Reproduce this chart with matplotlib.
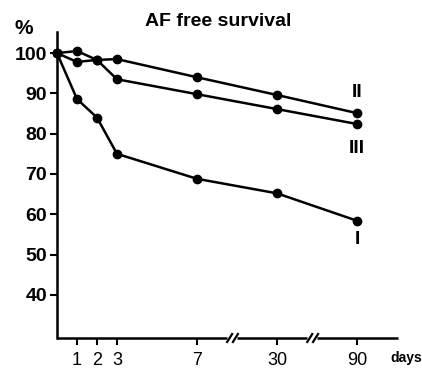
import numpy as np
import matplotlib.pyplot as plt

days = [0, 1, 2, 3, 7, 30, 90]
curve_II = [100, 97.8, 98.3, 98.5, 94.0, 89.6, 85.1]
curve_III = [100, 100.5, 98.3, 93.5, 89.8, 86.1, 82.4]
curve_I = [100, 88.6, 84.0, 75.0, 68.8, 65.2, 58.4]
y_ticks = [40, 50, 60, 70, 80, 90, 100]
curve_names = ['II', 'III', 'I']

# broken day axis: map days to evenly spaced positions
day_knots = [0, 1, 2, 3, 7, 30, 90, 200]
pos_knots = [0, 1, 2, 3, 7, 11, 15, 17.05]


def fwd(x):
    return np.interp(x, day_knots, pos_knots)


def inv(p):
    return np.interp(p, pos_knots, day_knots)


plt.rcParams['font.family'] = ['Liberation Sans', 'DejaVu Sans']

fig = plt.figure(figsize=(4.22, 3.69), dpi=100)
ax = fig.add_axes([0.135, 0.084, 0.808, 0.829])
ax.set_xscale('function', functions=(fwd, inv))

for ys in (curve_II, curve_III, curve_I):
    ax.plot(days, ys, color='black', lw=1.8, marker='o', ms=6, clip_on=False)

ax.set_xlim(0, 200)
ax.set_ylim(29.3, 105.2)

ax.set_xticks(days[1:])
ax.set_xticklabels([str(d) for d in days[1:]], fontsize=13)
ax.set_yticks(y_ticks)
ax.set_yticklabels([str(v) for v in y_ticks], fontsize=14, fontweight='bold')
ax.tick_params(axis='both', direction='out', length=5, width=1.5, color='black')
ax.tick_params(axis='x', pad=5)
ax.tick_params(axis='y', pad=2)

for s in ('top', 'right', 'bottom'):
    ax.spines[s].set_visible(False)
ax.spines['left'].set_linewidth(1.8)

# bottom axis line with break marks
segs = [(0, 0.4985), (0.528, 0.733), (0.762, 1.0)]
for a, b in segs:
    ax.plot([a, b], [0, 0], transform=ax.transAxes, color='black', lw=1.8,
            clip_on=False, solid_capstyle='butt')
for x0 in (0.499, 0.516, 0.734, 0.751):
    ax.plot([x0, x0 + 0.0147], [-0.013, 0.013], transform=ax.transAxes,
            color='black', lw=1.6, clip_on=False)

# curve labels at the right end
label_y = [curve_II[-1] + 5.2, curve_III[-1] - 6.0, curve_I[-1] - 4.7]
for name, yv in zip(curve_names, label_y):
    ax.text(90, yv, name, fontsize=14, fontweight='bold', ha='center', va='center')

fig.text(24 / 422, 1 - 28 / 369, '%', fontsize=15, fontweight='bold',
         ha='center', va='center')
fig.text(218 / 422, 1 - 22 / 369, 'AF free survival', fontsize=14,
         fontweight='bold', ha='center', va='center')
fig.text(406 / 422, 1 - 358 / 369, 'days', fontsize=10, fontweight='bold',
         ha='center', va='center')

fig.savefig('out.png', dpi=100)
